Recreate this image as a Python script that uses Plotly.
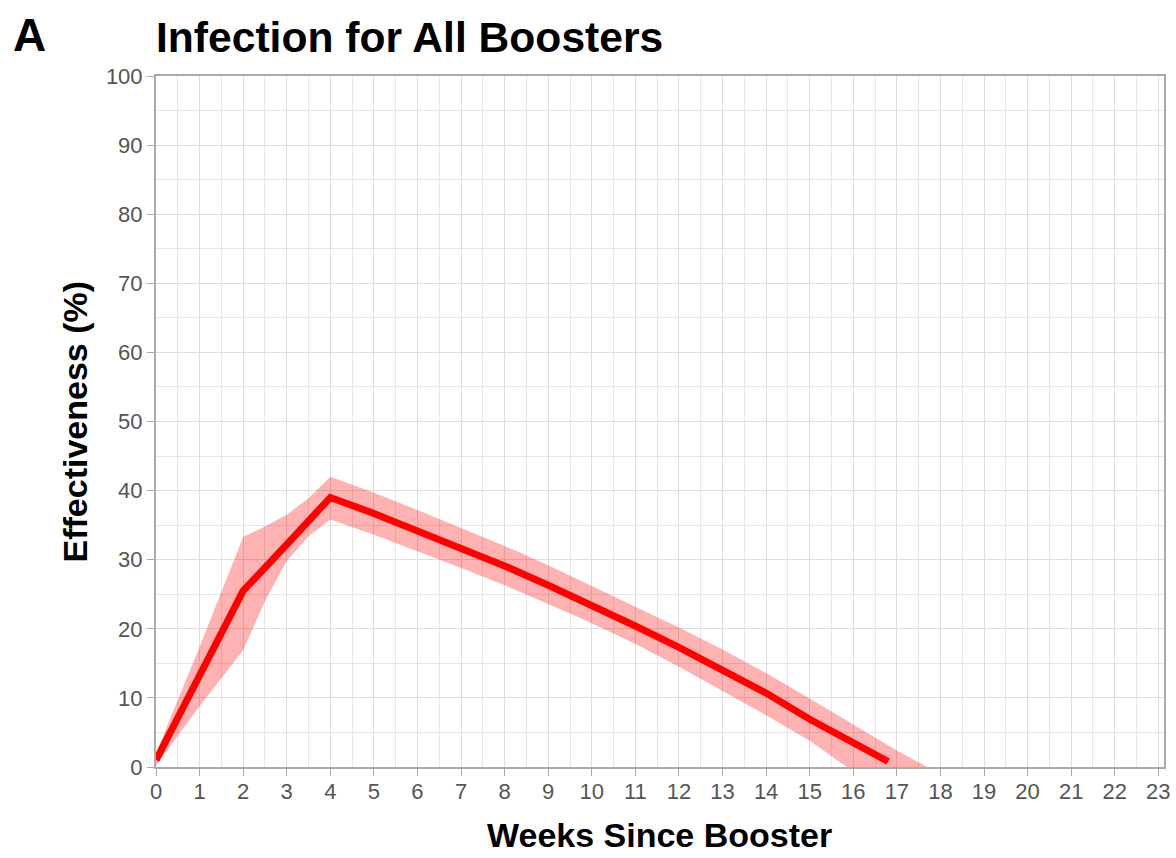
import plotly.graph_objects as go

# effectiveness estimate by week since booster
weeks = [0, 1, 2, 3, 4, 5, 6, 7, 8, 9, 10, 11, 12, 13, 14, 15, 16, 16.8]
effect = [1.0, 13.3, 25.5, 32.2, 39.0, 36.7, 34.2, 31.7, 29.1, 26.3, 23.4, 20.4, 17.3, 14.0, 10.7, 6.9, 3.4, 0.8]

# confidence band edges
upper_weeks = [0, 1, 2, 2.5, 3, 3.5, 4, 5, 6, 7, 8, 9, 10, 11, 12, 13, 14, 15, 16, 17, 17.7]
upper = [2.0, 17.4, 33.3, 34.8, 36.5, 38.9, 42.0, 39.7, 37.2, 34.6, 32.0, 29.2, 26.2, 23.2, 20.2, 17.0, 13.6, 9.9, 6.2, 2.4, 0.0]
lower_weeks = [0, 1, 2, 2.5, 3, 3.5, 4, 5, 6, 7, 8, 9, 10, 11, 12, 13, 14, 15, 15.85]
lower = [0.2, 8.8, 16.9, 24.0, 29.8, 33.4, 35.8, 33.6, 31.2, 28.8, 26.3, 23.6, 20.8, 17.8, 14.5, 11.0, 7.5, 3.8, 0.0]

x_ticks = list(range(0, 24))
y_ticks = list(range(0, 101, 10))

FONT = "Arial, 'Liberation Sans', sans-serif"

fig = go.Figure()

# band as one closed polygon: upper edge forward, lower edge back
fig.add_trace(go.Scatter(
    x=upper_weeks + lower_weeks[::-1],
    y=upper + lower[::-1],
    fill='toself',
    fillcolor='rgba(255,0,0,0.3)',
    line=dict(width=0),
    mode='lines',
    hoverinfo='skip',
    showlegend=False,
))

fig.add_trace(go.Scatter(
    x=weeks, y=effect,
    mode='lines',
    line=dict(color='#ff0000', width=7),
    showlegend=False,
))

axis_common = dict(
    showline=True, linecolor='#aaaaaa', linewidth=2, mirror=True,
    showgrid=True, gridcolor='#dddddd', gridwidth=1,
    ticks='outside', ticklen=7, tickcolor='#aaaaaa', tickwidth=1,
    tickfont=dict(family=FONT, size=22, color='#555555'),
    zeroline=False, automargin=False, ticklabeloverflow='allow',
)

fig.update_xaxes(
    **axis_common,
    range=[0, 23.13],
    tickvals=x_ticks,
    ticklabelstandoff=-3,
    minor=dict(dtick=0.5, showgrid=True, gridcolor='#e6e6e6', ticks=''),
)
fig.update_yaxes(
    **axis_common,
    range=[0, 100],
    tickvals=y_ticks,
    minor=dict(dtick=5, showgrid=True, gridcolor='#e6e6e6', ticks=''),
)

fig.update_layout(
    width=1176, height=858,
    margin=dict(l=156, r=12, t=76, b=91),
    plot_bgcolor='white', paper_bgcolor='white',
    title=dict(
        text='<b>Infection for All Boosters</b>',
        font=dict(family=FONT, size=42.6, color='#000000'),
        xref='paper', x=0, xanchor='left',
        yref='container', y=1 - 37 / 858, yanchor='middle',
    ),
    annotations=[
        dict(
            text='<b>A</b>', font=dict(family=FONT, size=46, color='#000000'),
            xref='paper', yref='paper', x=-145 / 1008, y=(767 - 35) / 691,
            xanchor='left', yanchor='middle', showarrow=False,
        ),
        dict(
            text='<b>Effectiveness (%)</b>', font=dict(family=FONT, size=34, color='#000000'),
            xref='paper', yref='paper', x=(74 - 156) / 1008, y=0.5,
            xanchor='center', yanchor='middle', textangle=-90, showarrow=False,
        ),
        dict(
            text='<b>Weeks Since Booster</b>', font=dict(family=FONT, size=34, color='#000000'),
            xref='paper', yref='paper', x=(659 - 156) / 1008, y=(767 - 835) / 691,
            xanchor='center', yanchor='middle', showarrow=False,
        ),
    ],
)

# drop the page's default body margin so the figure fills the window
fig.write_html("out.html", config={'displayModeBar': False},
               post_script="document.body.style.margin='0';")
